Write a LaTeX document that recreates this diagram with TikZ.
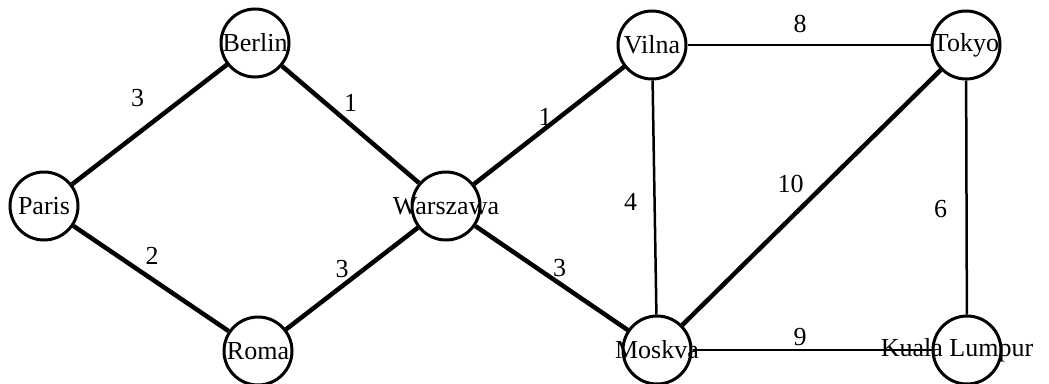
\documentclass[tikz,border=0pt]{standalone}
\usepackage{fontspec}
\setmainfont{Liberation Serif}
\usetikzlibrary{positioning}
\tikzset{
    % cities: fixed circles, the name sits on top and may overflow
    city/.style={circle, draw, line width=3pt, minimum size=68pt, inner sep=0pt},
    % roads
    heavy/.style={line width=4.5pt},
    light/.style={line width=2.5pt},
    wt/.style={midway, inner sep=0pt}
}

\begin{document}
\begin{tikzpicture}[font=\fontsize{26}{30}\selectfont, on grid]

\useasboundingbox (0,0) rectangle (1049pt,-383pt);

\node[city, label=center:Warszawa] (warszawa) at (446pt,-206pt) {};
\node[city, label=center:Berlin, above left=163pt and 191pt of warszawa] (berlin) {};
\node[city, label=center:Paris, left=402pt of warszawa] (paris) {};
\node[city, label=center:Roma, below left=145pt and 188pt of warszawa] (roma) {};
\node[city, label=center:Vilna, above right=161pt and 206pt of warszawa] (vilna) {};
\node[city, label=center:Moskva, below right=144pt and 211pt of warszawa] (moskva) {};
\node[city, label=center:Tokyo, right=314pt of vilna] (tokyo) {};
\node[city, label={[xshift=-10pt]center:Kuala Lumpur}, right=310pt of moskva] (kl) {};

% weights are shifted off the middle of each road
\draw[heavy] (paris) -- node[wt, xshift=-12pt, yshift=26pt] {3} (berlin);
\draw[heavy] (paris) -- node[wt, xshift=1pt, yshift=23pt] {2} (roma);
\draw[heavy] (berlin) -- node[wt, yshift=22pt] {1} (warszawa);
\draw[heavy] (roma) -- node[wt, xshift=-10pt, yshift=9pt] {3} (warszawa);
\draw[heavy] (warszawa) -- node[wt, xshift=-4pt, yshift=9pt] {1} (vilna);
\draw[heavy] (warszawa) -- node[wt, xshift=8pt, yshift=10pt] {3} (moskva);
\draw[heavy] (moskva) -- node[wt, xshift=-21pt, yshift=14pt] {10} (tokyo);

\draw[light] (vilna) -- node[wt, xshift=-9pt, yshift=21pt] {8} (tokyo);
\draw[light] (vilna) -- node[wt, xshift=-24pt, yshift=-4pt] {4} (moskva);
\draw[light] (tokyo) -- node[wt, xshift=-26pt, yshift=-12pt] {6} (kl);
\draw[light] (moskva) -- node[wt, xshift=-12pt, yshift=13pt] {9} (kl);

\end{tikzpicture}
\end{document}
